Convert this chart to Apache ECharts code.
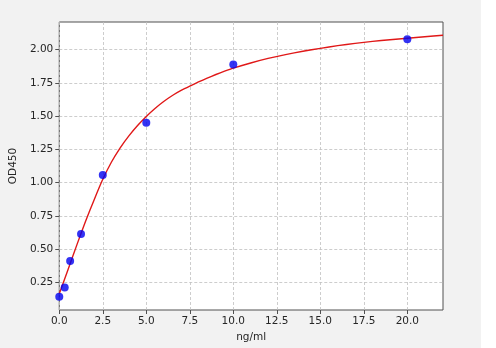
<!DOCTYPE html>
<html><head><meta charset="utf-8">
<script src="https://cdn.jsdelivr.net/npm/echarts@6/dist/echarts.min.js"></script>
<style>html,body{margin:0;padding:0;background:#f2f2f2;}#c{width:496px;height:348px;}</style>
</head><body><div id="c"></div>
<script>
// Standard points (concentration ng/ml, OD450)
const stdX = [0, 0.3125, 0.625, 1.25, 2.5, 5, 10, 20];
const stdY = [0.142, 0.212, 0.41, 0.613, 1.057, 1.45, 1.889, 2.079];
// Fitted curve
const curveX = [0, 0.5, 1, 1.5, 2, 2.5, 3, 3.5, 4, 4.5, 5, 5.5, 6, 6.5, 7, 7.5, 8, 8.5, 9, 9.5, 10, 11, 12, 13, 14, 15, 16, 17, 18, 19, 20, 21, 22.05];
const curveY = [0.165, 0.345, 0.528, 0.705, 0.87, 1.025, 1.155, 1.262, 1.352, 1.43, 1.498, 1.558, 1.61, 1.655, 1.693, 1.726, 1.757, 1.786, 1.813, 1.838, 1.861, 1.9, 1.934, 1.963, 1.988, 2.01, 2.03, 2.047, 2.062, 2.075, 2.086, 2.097, 2.108];
const xTicks = [0, 2.5, 5, 7.5, 10, 12.5, 15, 17.5, 20];
const yTicks = [0.25, 0.5, 0.75, 1.0, 1.25, 1.5, 1.75, 2.0];

const chart = echarts.init(document.getElementById('c'), null, {renderer: 'canvas'});
const font = 'DejaVu Sans';
chart.setOption({
  backgroundColor: '#f2f2f2',
  animation: false,
  graphic: [{type: 'rect', right: 0, top: 0, shape: {width: 15, height: 348}, style: {fill: '#ffffff'}, z: -10}],
  grid: {left: 58, right: 53, top: 22, bottom: 38, show: true, backgroundColor: '#ffffff', borderColor: '#505050', borderWidth: 1},
  xAxis: {
    type: 'value', min: 0, max: 22.05,
    name: 'ng/ml', nameLocation: 'middle', nameGap: 22,
    nameTextStyle: {fontFamily: font, fontSize: 10.5, color: '#262626'},
    axisLine: {show: false},
    axisTick: {show: true, length: 4, lineStyle: {color: '#505050'}, customValues: xTicks},
    axisLabel: {fontFamily: font, fontSize: 10.5, color: '#262626', margin: 6, customValues: xTicks, formatter: v => v.toFixed(1)},
    splitLine: {show: true, lineStyle: {color: '#c0c0c0', type: [3, 2], width: 0.8}}
  },
  yAxis: {
    type: 'value', min: 0.042, max: 2.208,
    name: 'OD450', nameLocation: 'middle', nameGap: 38, nameRotate: 90,
    nameTextStyle: {fontFamily: font, fontSize: 10.5, color: '#262626'},
    axisLine: {show: false},
    axisTick: {show: true, length: 4, lineStyle: {color: '#505050'}, customValues: yTicks},
    axisLabel: {fontFamily: font, fontSize: 10.5, color: '#262626', margin: 6, customValues: yTicks, formatter: v => v.toFixed(2)},
    splitLine: {show: true, lineStyle: {color: '#c0c0c0', type: [3, 2], width: 0.8}}
  },
  series: [
    {type: 'line', data: curveX.map((x, i) => [x, curveY[i]]), smooth: 0.2, showSymbol: false,
     lineStyle: {color: '#e01818', width: 1.4}, z: 2, clip: true},
    {type: 'scatter', data: stdX.map((x, i) => [x, stdY[i]]), symbolSize: 8,
     itemStyle: {color: '#0000f0'}, z: 3, clip: false}
  ]
});
</script></body></html>
